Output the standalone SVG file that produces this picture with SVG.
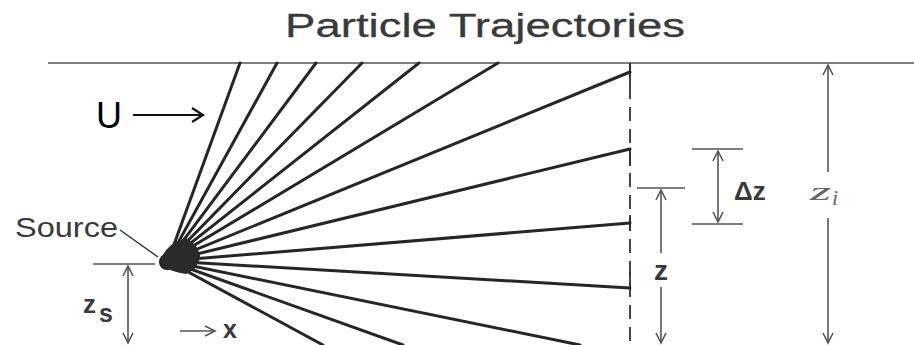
<svg xmlns="http://www.w3.org/2000/svg" width="914" height="345" viewBox="0 0 914 345">
<style>
.traj{stroke:#262626;stroke-width:3;fill:none;stroke-linecap:round}
.dim{stroke:#555;stroke-width:1.6;fill:none}
.lbl{font-family:"Liberation Sans",Arial,sans-serif;fill:#3a3a3a}
</style>
<defs>
<marker id="ah" viewBox="-12 -7 14 14" markerWidth="14" markerHeight="14" refX="0" refY="0" orient="auto" markerUnits="userSpaceOnUse">
<path d="M-10,-5 L0,0 L-10,5" fill="none" stroke="#555" stroke-width="1.6"/>
</marker>
<marker id="ahb" viewBox="-14 -8 16 16" markerWidth="16" markerHeight="16" refX="0" refY="0" orient="auto" markerUnits="userSpaceOnUse">
<path d="M-11,-7 L0,0 L-11,7" fill="none" stroke="#111" stroke-width="2.2"/>
</marker>
</defs>
<rect width="914" height="345" fill="#fff"/>
<text x="285" y="37" class="lbl" font-size="34" fill="#3c3c3c" stroke="#3c3c3c" stroke-width="0.3" textLength="400" lengthAdjust="spacingAndGlyphs">Particle Trajectories</text>

<g id="boundary">
<line x1="48" y1="63" x2="914" y2="63" stroke="#555" stroke-width="1.6"/>
<line x1="630" y1="63" x2="630" y2="345" stroke="#333" stroke-width="1.8" stroke-dasharray="14 8"/>
<g stroke="#333" stroke-width="1.8">
<line x1="630" y1="63" x2="630" y2="86"/>
<line x1="630" y1="149" x2="630" y2="166"/>
<line x1="630" y1="215" x2="630" y2="231"/>
<line x1="630" y1="272" x2="630" y2="289"/>
</g>
</g>

<g id="connectors">
<g class="traj">
<line x1="168" y1="261" x2="240" y2="63"/>
<line x1="168" y1="261" x2="277" y2="63"/>
<line x1="168" y1="261" x2="316" y2="63"/>
<line x1="168" y1="261" x2="362" y2="63"/>
<line x1="168" y1="261" x2="419" y2="63"/>
<line x1="168" y1="261" x2="498" y2="63"/>
<line x1="168" y1="261" x2="630" y2="72"/>
<line x1="168" y1="261" x2="630" y2="149"/>
<line x1="168" y1="261" x2="630" y2="223"/>
<line x1="168" y1="261" x2="630" y2="288"/>
<line x1="168" y1="261" x2="580" y2="345"/>
<line x1="168" y1="261" x2="403" y2="345"/>
<line x1="168" y1="261" x2="323" y2="345"/>
</g>
</g>

<g id="source">
<circle cx="167" cy="262" r="8" fill="#222"/>
<path d="M162,256 Q170,242 186,238 Q198,244 200,256 Q198,270 186,274 Q172,272 162,266 Z" fill="#2a2a2a"/>
<line x1="120" y1="230" x2="158" y2="257" stroke="#333" stroke-width="1.4"/>
<text x="15" y="237" class="lbl" font-size="28" textLength="103" lengthAdjust="spacingAndGlyphs">Source</text>
</g>

<g id="wind">
<text x="96" y="128" font-family="Liberation Sans,Arial,sans-serif" font-size="36" fill="#000">U</text>
<line x1="133" y1="115" x2="203" y2="115" stroke="#111" stroke-width="2.2" marker-end="url(#ahb)"/>
</g>

<g id="zs-dim">
<line x1="93" y1="264" x2="155" y2="264" class="dim"/>
<line x1="128" y1="300" x2="128" y2="266" class="dim" marker-end="url(#ah)"/>
<line x1="128" y1="300" x2="128" y2="343" class="dim" marker-end="url(#ah)"/>
<text x="83" y="313" class="lbl" font-size="26" font-weight="bold">z</text>
<text x="99" y="322" class="lbl" font-size="25" font-weight="bold">s</text>
</g>

<g id="x-axis">
<line x1="180" y1="331" x2="215" y2="331" class="dim" marker-end="url(#ah)"/>
<text x="223" y="338" class="lbl" font-size="25" font-weight="bold">x</text>
</g>

<g id="dz-dim">
<line x1="692" y1="149" x2="743" y2="149" class="dim"/>
<line x1="692" y1="224" x2="743" y2="224" class="dim"/>
<line x1="718" y1="186" x2="718" y2="151" class="dim" marker-end="url(#ah)"/>
<line x1="718" y1="186" x2="718" y2="222" class="dim" marker-end="url(#ah)"/>
<text x="734" y="200" class="lbl" font-size="26" font-weight="bold">Δz</text>
</g>

<g id="z-dim">
<line x1="637" y1="188" x2="685" y2="188" class="dim"/>
<line x1="661" y1="253" x2="661" y2="190" class="dim" marker-end="url(#ah)"/>
<line x1="661" y1="287" x2="661" y2="343" class="dim" marker-end="url(#ah)"/>
<text x="661" y="280" class="lbl" font-size="28" font-weight="bold" text-anchor="middle">z</text>
</g>

<g id="zi-dim">
<line x1="828" y1="172" x2="828" y2="65" class="dim" marker-end="url(#ah)"/>
<line x1="828" y1="218" x2="828" y2="343" class="dim" marker-end="url(#ah)"/>
<text x="810" y="200" font-family="Liberation Serif,serif" font-style="italic" font-size="26" fill="#666" textLength="21" lengthAdjust="spacingAndGlyphs">z</text>
<text x="832" y="205" font-family="Liberation Serif,serif" font-style="italic" font-size="22" fill="#666">i</text>
</g>
</svg>
